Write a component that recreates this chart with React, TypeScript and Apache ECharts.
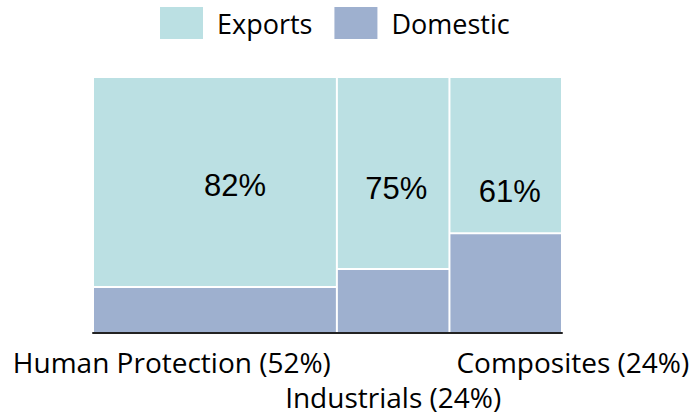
import React, { useEffect, useRef } from "react";
import * as echarts from "echarts";

// ---- data ----
const categories = ["Human Protection", "Industrials", "Composites"];
const shares = [52, 24, 24]; // column widths (% of total)
const exportsPct = [82, 75, 61];
const domesticPct = [18, 25, 39];
const seriesNames = ["Exports", "Domestic"];

// ---- style ----
const EXPORT_COLOR = "#bbe0e3";
const DOMESTIC_COLOR = "#9eb0cf";
const CAL_FONT = "'Open Sans', 'Noto Sans', sans-serif";
const NUM_FONT = "'Liberation Sans', Arial, sans-serif";
const PCT_LABEL_Y = 56; // value on y-axis where percentage labels sit
const pctLabelDx = [20, 3, 4];
const pctLabelDy = [-4, -1, 2];

export default function App() {
  const ref = useRef<HTMLDivElement>(null);

  useEffect(() => {
    const chart = echarts.init(ref.current!, null, { renderer: "svg" });

    const starts = shares.map((_, i) => shares.slice(0, i).reduce((a, b) => a + b, 0));
    const domData = categories.map((_, i) => [starts[i], starts[i] + shares[i], 0, domesticPct[i], i]);
    const expData = categories.map((_, i) => [
      starts[i],
      starts[i] + shares[i],
      domesticPct[i],
      domesticPct[i] + exportsPct[i],
      i,
    ]);

    const makeRect = (api: any, color: string) => {
      const p0 = api.coord([api.value(0), api.value(2)]);
      const p1 = api.coord([api.value(1), api.value(3)]);
      return {
        type: "rect",
        shape: {
          x: p0[0] + 1,
          y: p1[1] + 1,
          width: p1[0] - p0[0] - 2,
          height: p0[1] - p1[1] - 2,
        },
        style: { fill: color },
      };
    };

    const option: any = {
      animation: false,
      legend: {
        data: seriesNames,
        left: 155,
        top: 2,
        itemWidth: 43,
        itemHeight: 32,
        itemGap: 22,
        icon: "rect",
        textStyle: {
          fontFamily: CAL_FONT,
          fontSize: 27,
          color: "#000",
          padding: [0, 0, 0, 9],
        },
      },
      grid: { left: 93, right: 129, top: 77, bottom: 83 },
      xAxis: {
        type: "value",
        min: 0,
        max: 100,
        axisLine: { show: true, lineStyle: { color: "#222", width: 2 } },
        axisTick: { show: false },
        axisLabel: { show: false },
        splitLine: { show: false },
      },
      yAxis: {
        type: "value",
        min: 0,
        max: 100,
        show: false,
        splitLine: { show: false },
      },
      series: [
        {
          name: "Exports",
          type: "custom",
          itemStyle: { color: EXPORT_COLOR },
          data: expData,
          renderItem: (params: any, api: any) => {
            const i = api.value(4);
            const x0 = api.value(0);
            const x1 = api.value(1);
            const rect = makeRect(api, EXPORT_COLOR);
            const lp = api.coord([(x0 + x1) / 2, PCT_LABEL_Y]);
            const pBL = api.coord([x0, 0]);
            const pBR = api.coord([x1, 0]);
            const catLabel = `${categories[i]} (${shares[i]}%)`;
            const n = categories.length;
            let cx: number, align: string, cy: number;
            if (i === 0) {
              cx = pBR[0] - 6;
              align = "right";
              cy = pBL[1] + 29;
            } else if (i === n - 1) {
              cx = pBL[0] + 7;
              align = "left";
              cy = pBL[1] + 29;
            } else {
              cx = (pBL[0] + pBR[0]) / 2;
              align = "center";
              cy = pBL[1] + 64;
            }
            return {
              type: "group",
              children: [
                rect,
                {
                  type: "text",
                  x: lp[0] + pctLabelDx[i],
                  y: lp[1] + pctLabelDy[i],
                  style: {
                    text: `${exportsPct[i]}%`,
                    fontFamily: NUM_FONT,
                    fontSize: 31,
                    fill: "#000",
                    align: "center",
                    verticalAlign: "middle",
                  },
                },
                {
                  type: "text",
                  x: cx,
                  y: cy,
                  style: {
                    text: catLabel,
                    fontFamily: CAL_FONT,
                    fontSize: 28,
                    fill: "#000",
                    align,
                    verticalAlign: "middle",
                  },
                },
              ],
            };
          },
        },
        {
          name: "Domestic",
          type: "custom",
          itemStyle: { color: DOMESTIC_COLOR },
          data: domData,
          renderItem: (params: any, api: any) => makeRect(api, DOMESTIC_COLOR),
        },
      ],
    };

    chart.setOption(option);
    return () => chart.dispose();
  }, []);

  return <div ref={ref} style={{ width: 691, height: 416, position: "absolute", left: 0, top: 0 }} />;
}
